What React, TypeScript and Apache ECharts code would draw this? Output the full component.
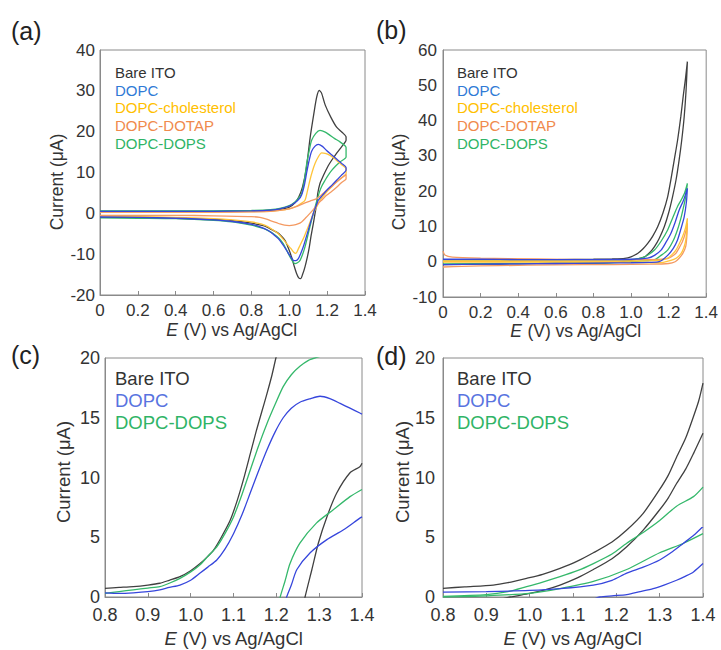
import React, { useEffect, useRef } from "react";
import * as echarts from "echarts";

type P = [number, number];

// ---------- legend labels ----------
const labelsAB = ["Bare ITO", "DOPC", "DOPC-cholesterol", "DOPC-DOTAP", "DOPC-DOPS"];
const labelsCD = ["Bare ITO", "DOPC", "DOPC-DOPS"];
const panelTags = ["(a)", "(b)", "(c)", "(d)"];

// ---------- panel (a): CV loops, forward then reverse ----------
const aBare: P[] = [
  [0, 0.5], [0.2, 0.5], [0.4, 0.5], [0.6, 0.5], [0.8, 0.6], [0.9, 0.7], [0.95, 0.9], [1.0, 1.5], [1.03, 2.6],
  [1.05, 4.0], [1.07, 6.5], [1.09, 11], [1.11, 18.5], [1.13, 24.5], [1.145, 28.5], [1.158, 30.1], [1.17, 29.5],
  [1.19, 26.5], [1.22, 23.5], [1.25, 21.1], [1.28, 19.8], [1.3, 18.7],
  [1.3, 17.9], [1.285, 16.8], [1.268, 15.8], [1.245, 14.4], [1.224, 13], [1.205, 11.6], [1.189, 10.1], [1.175, 8.7],
  [1.162, 7.3], [1.15, 4.8], [1.145, 2.4], [1.135, -0.3], [1.127, -2.5], [1.115, -5.5], [1.106, -8.2], [1.095, -10.8],
  [1.083, -13.1], [1.07, -15], [1.06, -16], [1.05, -15.8], [1.039, -14.8], [1.025, -12.8], [1.012, -10.7],
  [0.995, -8.5], [0.977, -6.6], [0.955, -5.4], [0.933, -4.6], [0.9, -3.8], [0.88, -3.3], [0.85, -2.9], [0.8, -2.4],
  [0.7, -1.8], [0.6, -1.5], [0.4, -1.2], [0.2, -1.0], [0, -1.0],
];
const aDOPC: P[] = [
  [0, 0.5], [0.2, 0.5], [0.4, 0.5], [0.6, 0.5], [0.8, 0.6], [0.9, 0.8], [0.95, 1.1], [1.0, 1.8], [1.03, 2.6],
  [1.05, 3.4], [1.065, 4.5], [1.08, 7], [1.092, 10], [1.105, 13], [1.118, 15.2], [1.135, 16.4], [1.153, 16.9],
  [1.175, 16.4], [1.197, 15.4], [1.225, 14.3], [1.25, 13.3], [1.275, 12.3], [1.3, 11.2],
  [1.3, 10.6], [1.275, 9.3], [1.25, 8.1], [1.225, 6.9], [1.197, 5.6], [1.175, 4.4], [1.153, 3.2], [1.14, 1.6],
  [1.127, 0], [1.113, -2.1], [1.1, -4.2], [1.087, -6.2], [1.074, -8.2], [1.06, -9.9], [1.048, -11.1], [1.035, -11.6],
  [1.021, -11.5], [1.005, -10.5], [0.986, -9.1], [0.965, -7.6], [0.942, -6.2], [0.915, -5.1], [0.889, -4.2],
  [0.845, -3.3], [0.8, -2.7], [0.7, -2.0], [0.6, -1.6], [0.4, -1.2], [0.2, -1.0], [0, -0.9],
];
const aChol: P[] = [
  [0, 0.3], [0.2, 0.3], [0.4, 0.3], [0.6, 0.3], [0.8, 0.4], [0.9, 0.5], [0.95, 0.7], [1.0, 1.1], [1.04, 1.8],
  [1.065, 2.5], [1.083, 3.2], [1.096, 5.5], [1.109, 8.1], [1.122, 10.3], [1.136, 12.2], [1.153, 13.8], [1.171, 14.8],
  [1.19, 14.7], [1.215, 14.2], [1.237, 13.5], [1.259, 12.6], [1.28, 11.8], [1.3, 10.9],
  [1.3, 9.7], [1.275, 8.7], [1.25, 7.7], [1.224, 6.5], [1.197, 5.2], [1.18, 4.2], [1.162, 3.2], [1.145, 1.6],
  [1.127, 0], [1.11, -2.1], [1.092, -4.2], [1.075, -6.1], [1.057, -7.8], [1.045, -9], [1.035, -9.8], [1.025, -9.6],
  [1.008, -8.6], [0.986, -7.4], [0.965, -6.2], [0.942, -5.0], [0.915, -4.1], [0.889, -3.3], [0.85, -2.6],
  [0.8, -2.1], [0.7, -1.6], [0.6, -1.3], [0.4, -1.0], [0.2, -0.8], [0, -0.7],
];
const aDOTAP: P[] = [
  [0, 0.3], [0.2, 0.3], [0.4, 0.3], [0.6, 0.3], [0.8, 0.35], [0.9, 0.5], [0.95, 0.7], [1.0, 1.1], [1.04, 1.7],
  [1.074, 2.4], [1.11, 3.0], [1.145, 3.6], [1.17, 4.5], [1.197, 5.6], [1.225, 6.6], [1.25, 7.7], [1.275, 8.6],
  [1.3, 9.5],
  [1.3, 8.5], [1.275, 7.5], [1.25, 6.4], [1.225, 5.4], [1.197, 4.4], [1.175, 3.4], [1.153, 2.4], [1.13, 1.1],
  [1.109, 0], [1.087, -1.1], [1.065, -2.1], [1.045, -2.6], [1.021, -2.9], [1.0, -3.0], [0.975, -2.9], [0.95, -2.6],
  [0.933, -2.3], [0.9, -1.8], [0.88, -1.4], [0.845, -1.0], [0.8, -0.8], [0.6, -0.6], [0.4, -0.5], [0.2, -0.5],
  [0, -0.5],
];
const aDOPS: P[] = [
  [0, 0.6], [0.2, 0.6], [0.4, 0.6], [0.6, 0.6], [0.8, 0.7], [0.9, 0.9], [0.95, 1.2], [1.0, 1.9], [1.03, 2.8],
  [1.05, 3.8], [1.065, 4.8], [1.08, 8.2], [1.092, 12.2], [1.105, 15.3], [1.118, 17.9], [1.14, 19.6], [1.162, 20.3],
  [1.19, 19.9], [1.215, 19.1], [1.24, 18.3], [1.268, 17.5], [1.3, 16.1],
  [1.3, 13.8], [1.268, 12.6], [1.245, 11.6], [1.224, 10.5], [1.205, 9.3], [1.189, 8.1], [1.172, 6.7], [1.159, 5.2],
  [1.147, 3.3], [1.136, 1.5], [1.122, -0.9], [1.109, -3.3], [1.096, -5.8], [1.083, -8.2], [1.07, -10.1],
  [1.057, -11.5], [1.043, -12.1], [1.03, -12.3], [1.017, -11.7], [1.004, -10.7], [0.986, -9], [0.968, -7.4],
  [0.945, -6.1], [0.916, -5.0], [0.89, -4.3], [0.862, -3.7], [0.8, -2.9], [0.7, -2.1], [0.6, -1.7], [0.4, -1.3],
  [0.2, -1.2], [0, -1.1],
];

// ---------- panel (b) ----------
const bBare: P[] = [
  [0, -0.8], [0.2, -0.7], [0.4, -0.6], [0.6, -0.5], [0.8, -0.4], [0.9, -0.2], [1.0, 0.4], [1.072, 1.4], [1.1, 2.6],
  [1.125, 4.3], [1.15, 6.6], [1.177, 9.9], [1.2, 13.8], [1.221, 18.4], [1.24, 23.3], [1.256, 28.8], [1.27, 34.5],
  [1.283, 41.1], [1.293, 48.5], [1.3, 56.7],
  [1.29, 52], [1.278, 47], [1.265, 41.1], [1.248, 34.5], [1.23, 28.8], [1.213, 23.5], [1.195, 18.4], [1.17, 13.8],
  [1.142, 9.9], [1.115, 7.2], [1.089, 5.2], [1.063, 3.6], [1.037, 2.4], [1.0, 1.4], [0.967, 0.96], [0.9, 0.8],
  [0.8, 0.7], [0.6, 0.6], [0.4, 0.6], [0.2, 0.6], [0, 0.6],
];
const bDOPC: P[] = [
  [0, -0.8], [0.2, -0.7], [0.4, -0.6], [0.6, -0.5], [0.8, -0.4], [1.0, -0.3], [1.1, -0.2], [1.15, 0],
  [1.195, 1.8], [1.225, 3.8], [1.247, 6.1], [1.265, 9.2], [1.283, 12.7], [1.295, 17], [1.3, 20.8],
  [1.28, 17.5], [1.256, 14.6], [1.235, 11.2], [1.212, 8], [1.185, 5.4], [1.16, 3.3], [1.125, 1.8], [1.089, 1.0],
  [1.0, 0.7], [0.8, 0.6], [0.6, 0.6], [0.4, 0.6], [0.2, 0.7], [0, 0.7],
];
const bChol: P[] = [
  [0, -0.1], [0.3, -0.1], [0.6, -0.1], [0.9, -0.2], [1.15, -0.3], [1.212, 0.4], [1.24, 1.0], [1.265, 2.2],
  [1.28, 3.8], [1.291, 6], [1.297, 9], [1.3, 12.3],
  [1.29, 9.6], [1.274, 7.1], [1.256, 5], [1.239, 3.3], [1.218, 2], [1.195, 1.0], [1.15, 0.4], [1.0, 0.2],
  [0.6, 0.2], [0.3, 0.2], [0, 0.2],
];
const bDOTAP: P[] = [
  [0, -1.5], [0.1, -1.3], [0.3, -1.1], [0.6, -0.9], [0.9, -0.8], [1.1, -0.7], [1.2, -0.5], [1.235, 0],
  [1.256, 1], [1.275, 2.3], [1.291, 4.3], [1.297, 7], [1.3, 10.9],
  [1.29, 8.3], [1.274, 5.7], [1.255, 3.8], [1.239, 2.4], [1.215, 1.4], [1.195, 0.9], [1.1, 0.6], [0.8, 0.6],
  [0.5, 0.8], [0.2, 1.0], [0.05, 1.3], [0.01, 1.9], [0, 3],
];
const bDOPS: P[] = [
  [0, -0.6], [0.3, -0.5], [0.6, -0.4], [0.9, -0.3], [1.0, 0], [1.125, 0.6], [1.16, 1.8], [1.195, 3.3],
  [1.225, 6], [1.247, 9], [1.265, 12.2], [1.28, 15.6], [1.291, 18.4], [1.3, 22.2],
  [1.285, 19.5], [1.265, 17.3], [1.247, 15.6], [1.22, 12.2], [1.195, 9], [1.16, 5.8], [1.125, 3.3], [1.09, 1.9],
  [1.054, 1.0], [1.0, 0.6], [0.9, 0.5], [0.6, 0.5], [0.3, 0.5], [0, 0.5],
];

// ---------- panel (c): separate scan branches ----------
const cBareFwd: P[] = [
  [0.8, 0.73], [0.833, 0.8], [0.866, 0.87], [0.9, 1.0], [0.928, 1.15], [0.95, 1.4], [0.975, 1.7], [1.0, 2.2],
  [1.022, 2.8], [1.04, 3.4], [1.053, 3.9], [1.07, 4.9], [1.092, 6.4], [1.108, 8], [1.123, 9.8], [1.14, 12.1],
  [1.154, 14], [1.166, 15.5], [1.178, 17], [1.19, 18.6], [1.199, 20], [1.21, 21.5], [1.22, 22.8],
];
const cBareRev: P[] = [
  [1.4, 11.2], [1.395, 10.9], [1.372, 10.4], [1.341, 8.7], [1.318, 6.7], [1.298, 4.5], [1.283, 2.3], [1.267, 0],
  [1.262, -1],
];
const cDOPCFwd: P[] = [
  [0.8, 0.35], [0.833, 0.3], [0.866, 0.35], [0.9, 0.45], [0.928, 0.6], [0.95, 0.8], [0.975, 1.0], [1.0, 1.4],
  [1.022, 2.0], [1.04, 2.5], [1.061, 3.1], [1.08, 4.0], [1.1, 5.3], [1.12, 6.9], [1.139, 8.7], [1.158, 10.5],
  [1.178, 12.3], [1.197, 13.8], [1.216, 15], [1.235, 15.8], [1.255, 16.3], [1.28, 16.6], [1.302, 16.8],
  [1.325, 16.6], [1.349, 16.2], [1.372, 15.8], [1.395, 15.4], [1.4, 15.3],
];
const cDOPCRev: P[] = [
  [1.4, 6.7], [1.395, 6.6], [1.356, 5.6], [1.318, 4.8], [1.279, 3.7], [1.248, 2.3], [1.235, 1.0], [1.224, 0],
  [1.218, -1],
];
const cDOPSFwd: P[] = [
  [0.8, 0.3], [0.833, 0.45], [0.866, 0.6], [0.9, 0.75], [0.928, 0.87], [0.95, 1.15], [0.975, 1.56], [1.0, 2.1],
  [1.022, 2.7], [1.04, 3.4], [1.061, 4.2], [1.08, 5.3], [1.1, 6.7], [1.12, 8.6], [1.139, 10.6], [1.158, 12.6],
  [1.178, 14.5], [1.197, 16.1], [1.216, 17.6], [1.235, 18.6], [1.255, 19.3], [1.275, 19.8], [1.294, 20.05],
  [1.32, 20.3], [1.35, 20.4], [1.38, 20.3], [1.4, 20.2],
];
const cDOPSRev: P[] = [
  [1.4, 9.0], [1.372, 8.4], [1.333, 7.3], [1.294, 6.2], [1.255, 4.5], [1.232, 2.8], [1.22, 1.3], [1.209, 0],
  [1.203, -1],
];

// ---------- panel (d) ----------
const dBareUp: P[] = [
  [0.8, 0.73], [0.85, 0.85], [0.916, 1.0], [0.95, 1.2], [0.993, 1.56], [1.03, 1.9], [1.07, 2.4], [1.11, 3.0],
  [1.147, 3.7], [1.19, 4.6], [1.224, 5.6], [1.262, 7], [1.3, 9], [1.32, 10.2], [1.339, 11.7], [1.36, 13.3],
  [1.378, 15.1], [1.39, 16.4], [1.4, 17.9],
];
const dBareLow: P[] = [
  [0.9, -0.5], [0.955, 0], [1.0, 0.3], [1.035, 0.6], [1.07, 1.0], [1.11, 1.6], [1.147, 2.3], [1.19, 3.2],
  [1.224, 4.2], [1.262, 5.6], [1.3, 7.3], [1.32, 8.3], [1.339, 9.5], [1.36, 10.7], [1.378, 12], [1.4, 13.7],
];
const dDOPCUp: P[] = [
  [0.8, 0.4], [0.9, 0.45], [1.0, 0.55], [1.07, 0.7], [1.147, 1.0], [1.19, 1.4], [1.224, 2.0], [1.262, 2.5],
  [1.3, 3.1], [1.33, 3.8], [1.355, 4.5], [1.38, 5.2], [1.4, 5.9],
];
const dDOPCLow: P[] = [
  [1.14, -0.3], [1.162, 0], [1.19, 0.1], [1.224, 0.2], [1.255, 0.45], [1.285, 0.7], [1.31, 1.0], [1.339, 1.4],
  [1.36, 1.75], [1.378, 2.1], [1.4, 2.8],
];
const dDOPSUp: P[] = [
  [0.8, 0.05], [0.9, 0.2], [0.95, 0.45], [0.993, 0.87], [1.03, 1.25], [1.07, 1.7], [1.11, 2.2], [1.147, 2.8],
  [1.19, 3.6], [1.224, 4.5], [1.262, 5.4], [1.3, 6.4], [1.339, 7.6], [1.378, 8.4], [1.4, 9.2],
];
const dDOPSLow: P[] = [
  [0.8, 0.0], [0.9, 0.1], [1.0, 0.3], [1.07, 0.7], [1.147, 1.3], [1.224, 2.3], [1.3, 3.7], [1.355, 4.5],
  [1.4, 5.3],
];

// ---------- styling ----------
const FONT = '"Liberation Sans", Arial, sans-serif';
const C_BLACK = "#404040";
const C_BLUE = "#3646dc";
const C_YEL = "#ffc43a";
const C_ORG = "#f49a62";
const C_GRN = "#35b86b";
const T_BLACK = "#333333";
const T_BLUE_AB = "#2f7ad6";
const T_BLUE_CD = "#5873e0";
const T_YEL = "#ffc000";
const T_ORG = "#f08a4c";
const T_GRN = "#2fb466";
const AXIS = "#8a8a8a";

function ln(data: P[], color: string, idx: number, z: number) {
  return {
    type: "line",
    xAxisIndex: idx,
    yAxisIndex: idx,
    data,
    symbol: "none",
    showSymbol: false,
    smooth: 0.25,
    clip: true,
    silent: true,
    z,
    lineStyle: { color, width: 1.3 },
    itemStyle: { color },
  };
}

function xAx(gi: number, min: number, max: number, interval: number, fs: number, margin: number) {
  return {
    type: "value",
    gridIndex: gi,
    min,
    max,
    interval,
    axisLine: { show: true, onZero: false, lineStyle: { color: AXIS, width: 1 } },
    axisTick: { show: true, inside: true, length: 4, lineStyle: { color: AXIS } },
    splitLine: { show: false },
    axisLabel: {
      fontSize: fs,
      fontFamily: FONT,
      color: "#333",
      margin,
      showMinLabel: true,
      showMaxLabel: true,
      formatter: (v: number) => (Math.abs(v) < 1e-9 ? "0" : v.toFixed(1)),
    },
  };
}

function yAx(gi: number, min: number, max: number, interval: number, fs: number, margin: number) {
  return {
    type: "value",
    gridIndex: gi,
    min,
    max,
    interval,
    axisLine: { show: true, onZero: false, lineStyle: { color: AXIS, width: 1 } },
    axisTick: { show: false },
    splitLine: { show: false },
    axisLabel: { fontSize: fs, fontFamily: FONT, color: "#333", margin },
  };
}

function txt(x: number, y: number, text: string, size: number, fill: string) {
  return {
    type: "text",
    x,
    y,
    silent: true,
    style: {
      text,
      fill,
      fontSize: size,
      fontFamily: FONT,
      align: "left",
      verticalAlign: "middle",
    },
  };
}

function xTitle(cx: number, cy: number, size: number) {
  return {
    type: "text",
    x: cx,
    y: cy,
    silent: true,
    style: {
      text: "{i|E} (V) vs Ag/AgCl",
      fill: "#333",
      fontSize: size,
      fontFamily: FONT,
      align: "center",
      verticalAlign: "middle",
      rich: { i: { fontStyle: "italic", fontSize: size, fontFamily: FONT, fill: "#333" } },
    },
  };
}

function yTitle(cx: number, cy: number, size: number) {
  return {
    type: "text",
    x: cx,
    y: cy,
    rotation: Math.PI / 2,
    silent: true,
    style: {
      text: "Current (\u03bcA)",
      fill: "#333",
      fontSize: size,
      fontFamily: FONT,
      align: "center",
      verticalAlign: "middle",
    },
  };
}

export default function App() {
  const ref = useRef<HTMLDivElement>(null);
  useEffect(() => {
    if (!ref.current) return;
    const chart = echarts.init(ref.current, undefined, { renderer: "svg" });
    const colsAB = [T_BLACK, T_BLUE_AB, T_YEL, T_ORG, T_GRN];
    const colsCD = [T_BLACK, T_BLUE_CD, T_GRN];
    const graphics: any[] = [];
    graphics.push(txt(11, 31, panelTags[0], 25, "#222"));
    graphics.push(txt(376, 30, panelTags[1], 25, "#222"));
    graphics.push(txt(11, 355, panelTags[2], 25, "#222"));
    graphics.push(txt(376, 356, panelTags[3], 25, "#222"));
    const ysAB = [72, 90, 107.5, 125, 143];
    labelsAB.forEach((l, i) => {
      graphics.push(txt(115, ysAB[i], l, 15, colsAB[i]));
      graphics.push(txt(457, ysAB[i], l, 15, colsAB[i]));
    });
    const ysCD = [378, 400, 422];
    labelsCD.forEach((l, i) => {
      graphics.push(txt(115, ysCD[i], l, 18.5, colsCD[i]));
      graphics.push(txt(457, ysCD[i], l, 18.5, colsCD[i]));
    });
    graphics.push(xTitle(232, 330, 17.5));
    graphics.push(xTitle(576, 331, 17.5));
    graphics.push(xTitle(234, 638, 18.5));
    graphics.push(xTitle(573, 638, 18.5));
    graphics.push(yTitle(57, 182, 17.5));
    graphics.push(yTitle(399, 182, 17.5));
    graphics.push(yTitle(63, 472, 18.5));
    graphics.push(yTitle(402, 472, 18.5));

    const gridStyle = { show: true, borderColor: AXIS, borderWidth: 1, backgroundColor: "transparent" };
    chart.setOption({
      animation: false,
      backgroundColor: "#ffffff",
      grid: [
        { left: 100, top: 50, width: 265, height: 245, ...gridStyle },
        { left: 443, top: 50, width: 266, height: 247, ...gridStyle },
        { left: 105, top: 358, width: 257, height: 239, ...gridStyle },
        { left: 443, top: 358, width: 260, height: 239, ...gridStyle },
      ],
      xAxis: [
        xAx(0, 0, 1.4, 0.2, 17, 7),
        xAx(1, 0, 1.4, 0.2, 17, 7),
        xAx(2, 0.8, 1.4, 0.1, 18, 9),
        xAx(3, 0.8, 1.4, 0.1, 18, 9),
      ],
      yAxis: [
        yAx(0, -20, 40, 10, 17, 5),
        yAx(1, -10, 60, 10, 17, 6),
        yAx(2, 0, 20, 5, 18, 5),
        yAx(3, 0, 20, 5, 18, 8),
      ],
      series: [
        ln(aBare, C_BLACK, 0, 2),
        ln(aDOPS, C_GRN, 0, 3),
        ln(aChol, C_YEL, 0, 4),
        ln(aDOTAP, C_ORG, 0, 5),
        ln(aDOPC, C_BLUE, 0, 6),
        ln(bBare, C_BLACK, 1, 2),
        ln(bDOPS, C_GRN, 1, 3),
        ln(bDOTAP, C_ORG, 1, 4),
        ln(bChol, C_YEL, 1, 5),
        ln(bDOPC, C_BLUE, 1, 6),
        ln(cBareFwd, C_BLACK, 2, 2),
        ln(cBareRev, C_BLACK, 2, 2),
        ln(cDOPSFwd, C_GRN, 2, 3),
        ln(cDOPSRev, C_GRN, 2, 3),
        ln(cDOPCFwd, C_BLUE, 2, 4),
        ln(cDOPCRev, C_BLUE, 2, 4),
        ln(dBareUp, C_BLACK, 3, 2),
        ln(dBareLow, C_BLACK, 3, 2),
        ln(dDOPSUp, C_GRN, 3, 3),
        ln(dDOPSLow, C_GRN, 3, 3),
        ln(dDOPCUp, C_BLUE, 3, 4),
        ln(dDOPCLow, C_BLUE, 3, 4),
      ],
      graphic: graphics,
    });
    return () => chart.dispose();
  }, []);
  return (
    <div
      ref={ref}
      style={{ position: "absolute", left: 0, top: 0, width: 721, height: 650, background: "#fff" }}
    />
  );
}
